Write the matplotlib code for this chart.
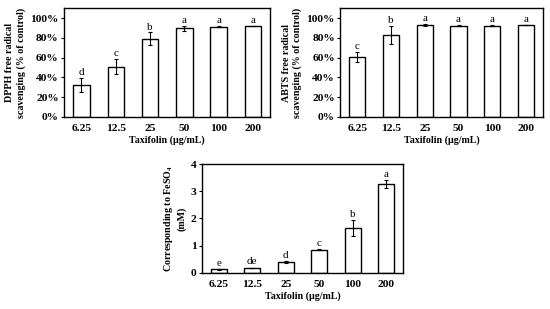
import matplotlib
matplotlib.use("Agg")
import matplotlib.pyplot as plt
import numpy as np
from matplotlib.ticker import PercentFormatter

plt.rcParams['font.family'] = ['Liberation Serif', 'DejaVu Serif']
plt.rcParams['mathtext.fontset'] = 'custom'
plt.rcParams['mathtext.rm'] = 'Liberation Serif'
plt.rcParams['mathtext.bf'] = 'Liberation Serif:bold'

categories = ["6.25", "12.5", "25", "50", "100", "200"]

dpph_values = [0.32, 0.51, 0.79, 0.90, 0.915, 0.92]
dpph_errors = [0.07, 0.08, 0.065, 0.025, 0.005, 0.003]
dpph_letters = ["d", "c", "b", "a", "a", "a"]

abts_values = [0.605, 0.83, 0.93, 0.925, 0.925, 0.93]
abts_errors = [0.05, 0.09, 0.01, 0.003, 0.003, 0.003]
abts_letters = ["c", "b", "a", "a", "a", "a"]

frap_values = [0.13, 0.18, 0.40, 0.85, 1.65, 3.28]
frap_errors = [0.02, 0.01, 0.03, 0.03, 0.30, 0.15]
frap_letters = ["e", "de", "d", "c", "b", "a"]

fig = plt.figure(figsize=(5.5, 3.09), dpi=100)

FS = 8.2
LFS = 7.2

def panel(rect, values, errors, letters, ylabel, ylim, yticks, pct, letter_off):
    ax = fig.add_axes(rect)
    x = np.arange(len(categories))
    ax.bar(x, values, width=0.48, color='white', edgecolor='black', linewidth=1.0, zorder=2)
    ax.errorbar(x, values, yerr=errors, fmt='none', ecolor='black', elinewidth=0.8,
                capsize=1.5, capthick=0.8, zorder=3)
    for xi, v, e, l in zip(x, values, errors, letters):
        ax.text(xi, v + e + letter_off, l, ha='center', va='bottom', fontsize=LFS + 0.8)
    ax.set_xlim(-0.5, len(categories) - 0.5)
    ax.set_ylim(*ylim)
    ax.set_yticks(yticks)
    if pct:
        ax.yaxis.set_major_formatter(PercentFormatter(1.0, decimals=0))
    ax.set_xticks(x)
    ax.set_xticklabels(categories)
    ax.tick_params(axis='x', length=0, pad=5, labelsize=FS)
    ax.tick_params(axis='y', length=2, width=0.8, pad=2, labelsize=FS)
    for lab in ax.get_xticklabels() + ax.get_yticklabels():
        lab.set_fontweight('bold')
    for s in ax.spines.values():
        s.set_linewidth(1.0)
    ax.set_xlabel("Taxifolin (μg/mL)", fontsize=LFS, fontweight='bold', labelpad=2)
    ax.set_ylabel(ylabel, fontsize=LFS, fontweight='bold', labelpad=3, linespacing=1.3)
    return ax

panel([0.117, 0.622, 0.374, 0.351], dpph_values, dpph_errors, dpph_letters,
      "DPPH free radical\nscavenging (% of control)", (0, 1.1),
      [0, 0.2, 0.4, 0.6, 0.8, 1.0], True, 0.01)
panel([0.619, 0.622, 0.368, 0.351], abts_values, abts_errors, abts_letters,
      "ABTS free radical\nscavenging (% of control)", (0, 1.1),
      [0, 0.2, 0.4, 0.6, 0.8, 1.0], True, 0.01)
panel([0.367, 0.1175, 0.366, 0.351], frap_values, frap_errors, frap_letters,
      "Corresponding to FeSO$_\\mathbf{4}$\n(mM)", (0, 4),
      [0, 1, 2, 3, 4], False, 0.04)

fig.savefig("out.png", dpi=100)
